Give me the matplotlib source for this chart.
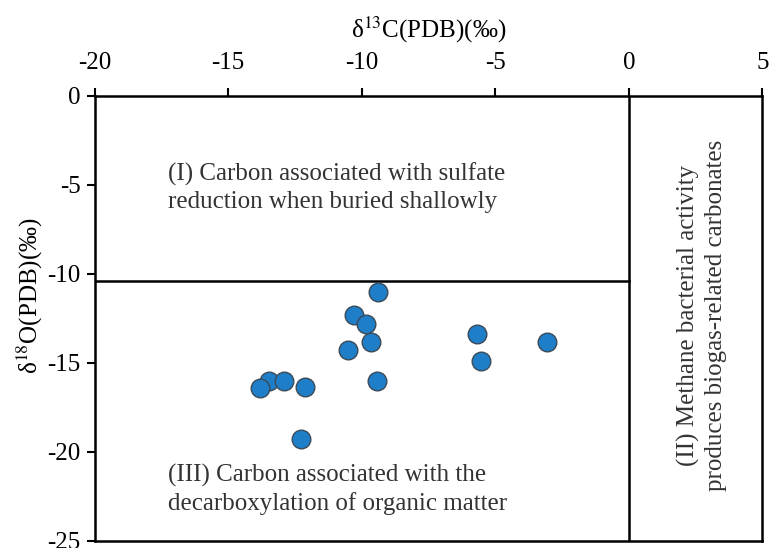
import numpy as np
import matplotlib.pyplot as plt

plt.rcParams['font.family'] = ['Liberation Serif', 'DejaVu Serif']
plt.rcParams['mathtext.fontset'] = 'stix'
plt.rcParams['axes.unicode_minus'] = False

# δ13C and δ18O values (‰ PDB)
d13c = [-9.4, -10.3, -9.85, -9.66, -10.52, -9.44, -5.69, -5.54, -3.07,
        -13.48, -12.92, -13.82, -12.13, -12.28]
d18o = [-11.0, -12.3, -12.8, -13.8, -14.3, -16.0, -13.4, -14.9, -13.8,
        -16.0, -16.0, -16.4, -16.35, -19.3]

x_ticks = [-20, -15, -10, -5, 0, 5]
y_ticks = [0, -5, -10, -15, -20, -25]
boundary_y = -10.4

fig = plt.figure(figsize=(7.7, 5.48), dpi=100)
ax = fig.add_axes([0.123, 0.013, 0.867, 0.812])

ax.scatter(d13c, d18o, s=180, color='#1f7ec8', edgecolors='#3c4a58',
           linewidths=1.0, zorder=3)

ax.plot([-20, 0], [boundary_y, boundary_y], color='black', lw=1.8)
ax.axvline(0, color='black', lw=1.8)

ax.set_xlim(-20, 5)
ax.set_ylim(-25, 0)
ax.set_xticks(x_ticks)
ax.set_yticks(y_ticks)
ax.xaxis.tick_top()
ax.xaxis.set_label_position('top')
ax.tick_params(labelsize=18, width=1.5, length=6, direction='out')
ax.tick_params(axis='x', pad=10)
ax.tick_params(axis='y', pad=4)
for sp in ax.spines.values():
    sp.set_linewidth(1.8)

ax.set_xlabel(r'δ$^{13}$C(PDB)(‰)', fontsize=18, labelpad=10)
ax.set_ylabel(r'δ$^{18}$O(PDB)(‰)', fontsize=18)
ax.yaxis.set_label_coords(-0.075, 0.55)

ax.text(-17.27, -5.15, '(I) Carbon associated with sulfate\nreduction when buried shallowly',
        fontsize=18, color='#333333', va='center', ha='left', linespacing=1.3)
ax.text(-17.27, -22.1, '(III) Carbon associated with the\ndecarboxylation of organic matter',
        fontsize=18, color='#333333', va='center', ha='left', linespacing=1.3)
ax.text(2.73, -12.35, '(II) Methane bacterial activity\nproduces biogas-related carbonates',
        fontsize=18, color='#333333', va='center', ha='center', rotation=90,
        linespacing=1.3)

fig.savefig('out.png', dpi=100)
